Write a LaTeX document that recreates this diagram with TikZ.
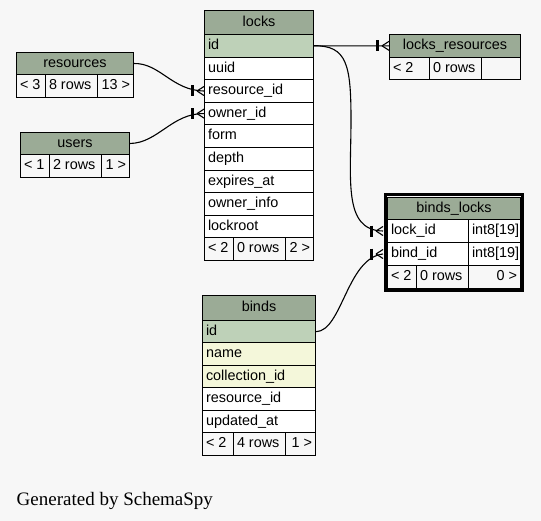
\documentclass[tikz,border=0pt]{standalone}
\usepackage{fontspec}
\setmainfont{Liberation Sans}
\newfontfamily\creditfont{Liberation Serif}
\definecolor{pagebg}{HTML}{F7F7F7}
\definecolor{headbg}{HTML}{9BAB96}
\definecolor{keybg}{HTML}{BED1B8}
\definecolor{idxbg}{HTML}{F4F7DA}

\tikzset{
  cellbase/.style={draw=black, line width=1bp, anchor=north west,
    inner xsep=3.5bp, inner ysep=0pt, text height=10.5bp, text depth=3bp,
    font=\fontsize{14.4bp}{16bp}\selectfont},
  headcell/.style={cellbase, fill=headbg},
  keycell/.style={cellbase, fill=keybg},
  idxcell/.style={cellbase, fill=idxbg},
  colcell/.style={cellbase, fill=white},
  footcell/.style={cellbase, fill=pagebg},
  link/.style={draw=black, line width=1.1bp},
  crowbar/.style={draw=black, line width=3bp},
}

% one table cell: style, name, left, top, width, height, alignment (l/c/r), text
\newcommand\tcell[8]{%
  \pgfmathsetmacro\tcellw{#5-7}%
  \node[#1, minimum width=#5bp, minimum height=#6bp] (#2) at (#3,#4)
    {\makebox[\tcellw bp][#7]{#8}};}

% "one or many" end: bar plus crow's foot touching the table
\newcommand\crowfoot[1]{%
  \draw[link] ([xshift=-7bp]#1) -- ([yshift=4.5bp]#1);
  \draw[link] ([xshift=-7bp]#1) -- ([yshift=-4.5bp]#1);
  \draw[crowbar] ([xshift=-12bp,yshift=5.5bp]#1) -- ([xshift=-12bp,yshift=-5.5bp]#1);}

\begin{document}
\begin{tikzpicture}[x=1bp,y=-1bp]
\fill[pagebg] (0,0) rectangle (541,521);
\useasboundingbox (0,0) rectangle (541,521);

% locks
\tcell{headcell}{locks-head}{204}{10}{109}{24}{c}{locks}
\tcell{keycell}{locks-id}{204}{34}{109}{22.6}{l}{id}
\tcell{colcell}{locks-uuid}{204}{56.6}{109}{22.6}{l}{uuid}
\tcell{colcell}{locks-resource}{204}{79.2}{109}{22.6}{l}{resource\_id}
\tcell{colcell}{locks-owner}{204}{101.8}{109}{22.6}{l}{owner\_id}
\tcell{colcell}{locks-form}{204}{124.4}{109}{22.6}{l}{form}
\tcell{colcell}{locks-depth}{204}{147}{109}{22.6}{l}{depth}
\tcell{colcell}{locks-expires}{204}{169.6}{109}{22.6}{l}{expires\_at}
\tcell{colcell}{locks-info}{204}{192.2}{109}{22.6}{l}{owner\_info}
\tcell{colcell}{locks-root}{204}{214.8}{109}{22.6}{l}{lockroot}
\tcell{footcell}{locks-parents}{204}{237.4}{29}{22.6}{l}{< 2}
\tcell{footcell}{locks-rows}{233}{237.4}{52}{22.6}{l}{0 rows}
\tcell{footcell}{locks-children}{285}{237.4}{28}{22.6}{r}{2 >}

% resources
\tcell{headcell}{resources-head}{16}{52}{117}{22}{c}{resources}
\tcell{footcell}{resources-parents}{16}{74}{29}{23}{l}{< 3}
\tcell{footcell}{resources-rows}{45}{74}{52}{23}{l}{8 rows}
\tcell{footcell}{resources-children}{97}{74}{36}{23}{r}{13 >}

% users
\tcell{headcell}{users-head}{20}{132}{109}{22}{c}{users}
\tcell{footcell}{users-parents}{20}{154}{29}{23}{l}{< 1}
\tcell{footcell}{users-rows}{49}{154}{52}{23}{l}{2 rows}
\tcell{footcell}{users-children}{101}{154}{28}{23}{r}{1 >}

% locks_resources
\tcell{headcell}{lr-head}{389}{34}{131}{22.7}{c}{locks\_resources}
\tcell{footcell}{lr-parents}{389}{56.7}{40}{22.6}{l}{< 2}
\tcell{footcell}{lr-rows}{429}{56.7}{52}{22.6}{l}{0 rows}
\tcell{footcell}{lr-children}{481}{56.7}{39}{22.6}{r}{}

% binds_locks (selected table, heavy frame)
\draw[black, line width=3bp] (385,195) rectangle (522,290);
\tcell{headcell}{bl-head}{387}{197}{133}{22}{c}{binds\_locks}
\tcell{colcell}{bl-lock}{387}{219}{81}{23}{l}{lock\_id}
\tcell{colcell}{bl-locktype}{468}{219}{52}{23}{l}{int8[19]}
\tcell{colcell}{bl-bind}{387}{242}{81}{23}{l}{bind\_id}
\tcell{colcell}{bl-bindtype}{468}{242}{52}{23}{l}{int8[19]}
\tcell{footcell}{bl-parents}{387}{265}{29}{23}{l}{< 2}
\tcell{footcell}{bl-rows}{416}{265}{52}{23}{l}{0 rows}
\tcell{footcell}{bl-children}{468}{265}{52}{23}{r}{0 >}

% binds
\tcell{headcell}{binds-head}{202}{295}{113}{25}{c}{binds}
\tcell{keycell}{binds-id}{202}{320}{113}{22.4}{l}{id}
\tcell{idxcell}{binds-name}{202}{342.4}{113}{22.4}{l}{name}
\tcell{idxcell}{binds-collection}{202}{364.8}{113}{22.4}{l}{collection\_id}
\tcell{colcell}{binds-resource}{202}{387.2}{113}{22.4}{l}{resource\_id}
\tcell{colcell}{binds-updated}{202}{409.6}{113}{22.4}{l}{updated\_at}
\tcell{footcell}{binds-parents}{202}{432}{31}{23}{l}{< 2}
\tcell{footcell}{binds-rows}{233}{432}{52}{23}{l}{4 rows}
\tcell{footcell}{binds-children}{285}{432}{30}{23}{r}{1 >}

% connector ends on the heavy frame
\coordinate (lockid-end) at ([xshift=-4bp]bl-lock.west);
\coordinate (bindid-end) at ([xshift=-4bp]bl-bind.west);

% relationships
\draw[link] (resources-head.east) .. controls (160,63) and (172,90.5) .. (locks-resource.west);
\crowfoot{locks-resource.west}
\draw[link] (users-head.east) .. controls (158,143) and (172,113.1) .. (locks-owner.west);
\crowfoot{locks-owner.west}
\draw[link] (locks-id.east) -- (lr-head.west);
\crowfoot{lr-head.west}
\draw[link] (locks-id.east) .. controls (347,45.3) and (351,65) .. (351,120)
  .. controls (351,180) and (343,230.5) .. (lockid-end);
\crowfoot{lockid-end}
\draw[link] (binds-id.east) .. controls (342,331) and (347,258) .. (bindid-end);
\crowfoot{bindid-end}

\node[anchor=base west, inner sep=0pt, font=\creditfont\fontsize{19bp}{22bp}\selectfont]
  (credit) at (16.5,505) {Generated by SchemaSpy};
\end{tikzpicture}
\end{document}
